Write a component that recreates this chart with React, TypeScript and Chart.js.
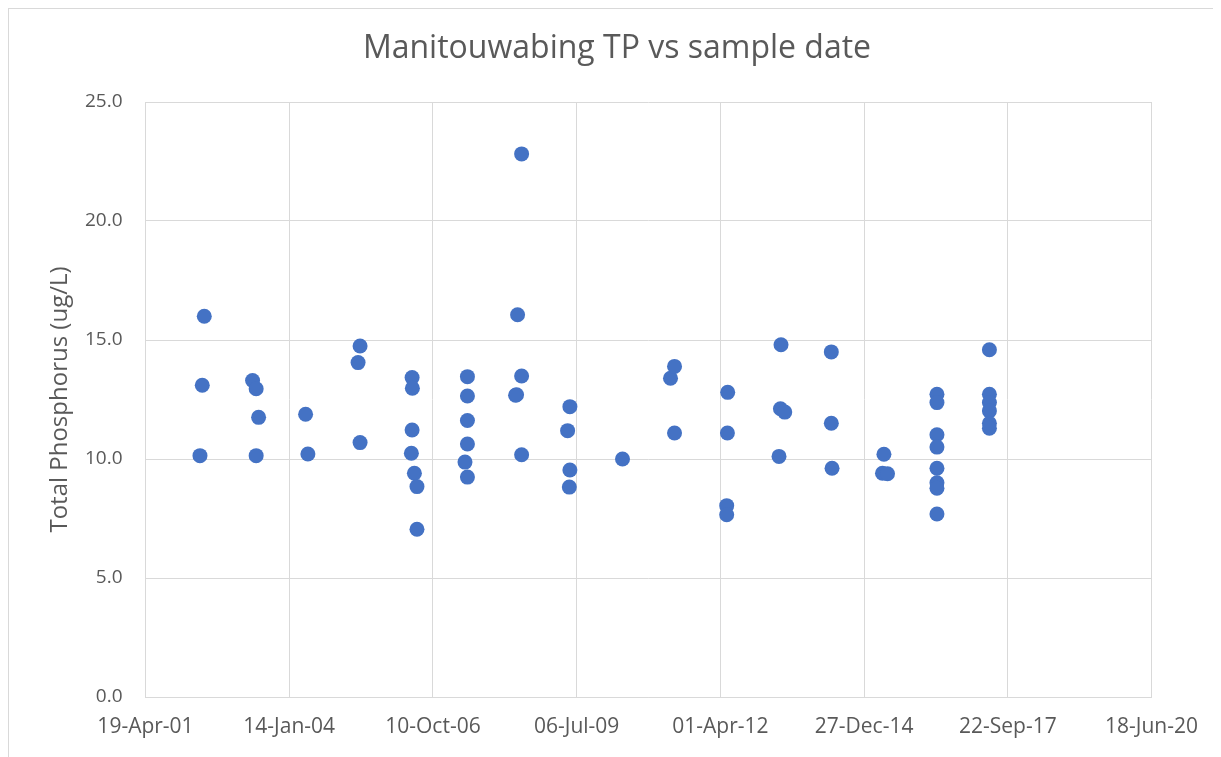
import React, { useEffect, useRef } from "react";
import { Chart, registerables } from "chart.js";

Chart.register(...registerables);

// Sample dates (ISO) and Total Phosphorus values (ug/L), parallel arrays
const sampleDates: string[] = [
  "2002-05-03", "2002-05-19", "2002-06-02",
  "2003-05-04", "2003-05-29", "2003-05-29", "2003-06-15",
  "2004-05-07", "2004-05-23",
  "2005-05-07", "2005-05-21", "2005-05-21",
  "2006-05-13", "2006-05-18", "2006-05-18", "2006-05-20", "2006-06-03", "2006-06-21", "2006-06-21",
  "2007-05-21", "2007-06-07", "2007-06-07", "2007-06-07", "2007-06-07", "2007-06-07",
  "2008-05-07", "2008-05-14", "2008-05-21", "2008-06-18", "2008-06-18", "2008-06-18",
  "2009-05-04", "2009-05-16", "2009-05-20", "2009-05-20",
  "2010-05-21",
  "2011-04-20", "2011-05-18", "2011-05-18",
  "2012-05-15", "2012-05-15", "2012-05-20", "2012-05-22",
  "2013-05-14", "2013-05-24", "2013-05-28", "2013-06-23",
  "2014-05-13", "2014-05-13", "2014-05-18",
  "2015-05-04", "2015-05-14", "2015-06-08",
  "2016-05-17", "2016-05-17", "2016-05-17", "2016-05-17", "2016-05-17", "2016-05-17", "2016-05-17", "2016-05-17",
  "2017-05-17", "2017-05-17", "2017-05-17", "2017-05-17", "2017-05-17", "2017-05-17",
];

const tpValues: number[] = [
  10.14, 13.1, 16.0,
  13.3, 12.95, 10.14, 11.75,
  11.88, 10.21,
  14.05, 14.75, 10.69,
  10.24, 13.42, 11.22, 12.97, 9.4, 8.84, 7.05,
  9.87, 13.46, 12.65, 11.62, 10.63, 9.24,
  12.68, 12.7, 16.06, 22.82, 13.49, 10.18,
  11.19, 8.82, 12.2, 9.54,
  10.0,
  13.39, 13.89, 11.09,
  8.04, 7.66, 11.09, 12.8,
  10.11, 12.11, 14.8, 11.97,
  14.5, 11.5, 9.61,
  9.4, 10.2, 9.38,
  12.72, 12.37, 11.02, 10.5, 9.61, 9.0, 8.77, 7.69,
  14.59, 12.72, 12.37, 12.02, 11.5, 11.29,
];

const xTickDates: string[] = [
  "2001-04-19", "2004-01-14", "2006-10-10", "2009-07-06",
  "2012-04-01", "2014-12-27", "2017-09-22", "2020-06-18",
];
const xTickLabels: string[] = [
  "19-Apr-01", "14-Jan-04", "10-Oct-06", "06-Jul-09",
  "01-Apr-12", "27-Dec-14", "22-Sep-17", "18-Jun-20",
];

const yMin = 0;
const yMax = 25;
const yStep = 5;

const chartTitle = "Manitouwabing TP vs sample date";
const yAxisTitle = "Total Phosphorus (ug/L)";

// Excel-style day serial (days since 1899-12-30)
const toSerial = (iso: string): number => {
  const [y, m, d] = iso.split("-").map(Number);
  return Math.round((Date.UTC(y, m - 1, d) - Date.UTC(1899, 11, 30)) / 86400000);
};

const TEXT = "#595959";
const GRID = "#d9d9d9";
const FONT = "'Open Sans', 'Noto Sans', sans-serif";

const titlePlugin = {
  id: "excelTitle",
  afterDraw(chart: any) {
    const { ctx, width } = chart;
    ctx.save();
    ctx.fillStyle = TEXT;
    ctx.font = `32px ${FONT}`;
    ctx.textAlign = "center";
    ctx.textBaseline = "alphabetic";
    ctx.fillText(chartTitle, width / 2 + 5, 49);
    ctx.restore();
  },
};

export default function App() {
  const ref = useRef<HTMLCanvasElement | null>(null);

  useEffect(() => {
    if (!ref.current) return;
    const points = sampleDates.map((d, i) => ({ x: toSerial(d), y: tpValues[i] }));
    const xMin = toSerial(xTickDates[0]);
    const xMax = toSerial(xTickDates[xTickDates.length - 1]);
    const xStep = toSerial(xTickDates[1]) - xMin;

    const chart = new Chart(ref.current, {
      type: "scatter",
      data: {
        datasets: [
          {
            data: points,
            backgroundColor: "#4472C4",
            borderColor: "#4472C4",
            borderWidth: 0,
            pointRadius: 7.5,
            pointHoverRadius: 7.5,
          },
        ],
      },
      plugins: [titlePlugin],
      options: {
        responsive: false,
        animation: false,
        layout: { padding: { left: 0, right: 63, top: 93, bottom: 0 } },
        plugins: {
          legend: { display: false },
          tooltip: { enabled: false },
          title: { display: false },
        },
        scales: {
          x: {
            type: "linear",
            min: xMin,
            max: xMax,
            afterFit: (s: any) => {
              s.height = 60;
            },
            ticks: {
              stepSize: xStep,
              color: TEXT,
              padding: 17,
              maxRotation: 0,
              autoSkip: false,
              font: { family: FONT, size: 21 },
              callback: (_v: any, i: number) => xTickLabels[i] ?? "",
            },
            grid: { color: GRID, lineWidth: 1, drawTicks: false },
            border: { display: true, color: GRID, width: 1 },
          },
          y: {
            min: yMin,
            max: yMax,
            afterFit: (s: any) => {
              s.width = 136.5;
            },
            ticks: {
              stepSize: yStep,
              color: TEXT,
              padding: 23,
              font: { family: FONT, size: 19 },
              callback: (v: any) => Number(v).toFixed(1),
            },
            grid: { color: GRID, lineWidth: 1, drawTicks: false },
            border: { display: true, color: GRID, width: 1 },
            title: {
              display: true,
              text: yAxisTitle,
              color: TEXT,
              font: { family: FONT, size: 24, lineHeight: 1.2 },
              padding: { top: 36.6, bottom: 0 },
            },
          },
        },
      },
    });
    return () => chart.destroy();
  }, []);

  return (
    <div style={{ border: "1px solid #d9d9d9", width: 1206, height: 748, background: "#fff" }}>
      <canvas ref={ref} width={1206} height={748} style={{ display: "block" }} />
    </div>
  );
}
